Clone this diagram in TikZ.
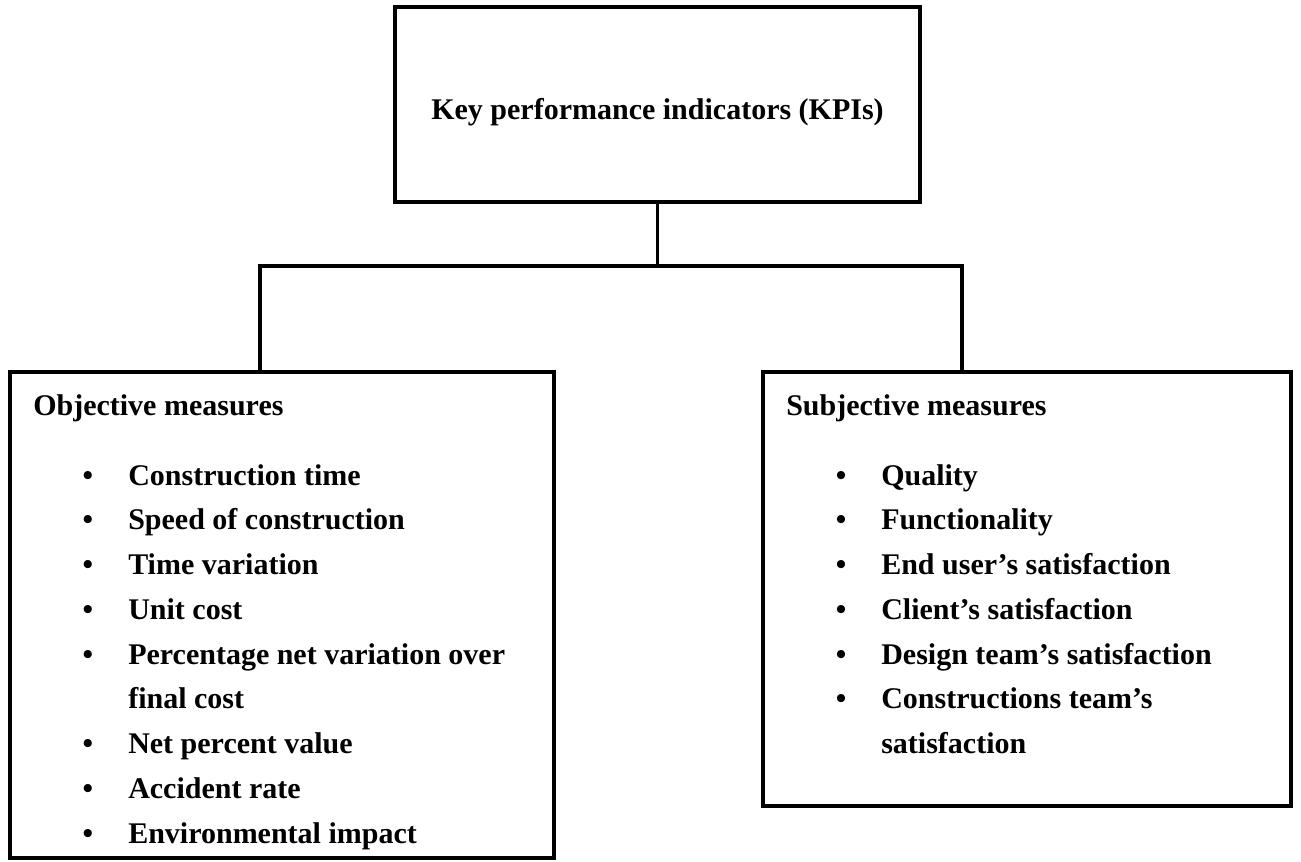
\documentclass[tikz,border=0pt]{standalone}
\usepackage{fontspec}
\setmainfont{Liberation Serif}
\usetikzlibrary{fit}
\begin{document}
\begin{tikzpicture}[x=0.75pt,y=-0.75pt,
  frame/.style={draw, rectangle, inner sep=0pt, line width=2.4pt},
  wire/.style={draw, line width=2.4pt},
  label/.style={anchor=base west, inner sep=0pt, font=\bfseries\fontsize{22.5}{27}\selectfont},
  dot/.style={anchor=base, inner sep=0pt, font=\bfseries\fontsize{22.5}{27}\selectfont}]
\useasboundingbox (0,0) rectangle (1301,861);

% boxes
\node[frame, fit={(395,7) (920,202)}] (kpi) {};
\node[frame, fit={(10,372) (554,858)}] (obj) {};
\node[frame, fit={(763,372) (1291,806)}] (subj) {};

% title
\node[dot] (title) at (657.5,119) {Key performance indicators (KPIs)};

% connectors
\coordinate (split) at (657.5,266);
\coordinate (ltap) at (260,266);
\coordinate (rtap) at (962,266);
\draw[wire] (kpi.south) -- (split);
\draw[wire] (ltap |- obj.north) -- (ltap) -- (rtap) -- (rtap |- subj.north);

% objective measures
\node[label] (oh) at (33,415) {Objective measures};
\foreach \t/\k [count=\i] in {Construction time/0, Speed of construction/1, Time variation/2, Unit cost/3, Percentage net variation over/4, Net percent value/6, Accident rate/7, Environmental impact/8}{
  \node[dot] (ob\i) at (88,485+44.75*\k) {\textbullet};
  \node[label] (o\i) at (128,485+44.75*\k) {\t};
}
\node[label] (owrap) at (128,485+44.75*5) {final cost};

% subjective measures
\node[label] (sh) at (786,415) {Subjective measures};
\foreach \t/\k [count=\i] in {Quality/0, Functionality/1, End user's satisfaction/2, Client's satisfaction/3, Design team's satisfaction/4, Constructions team's/5}{
  \node[dot] (sb\i) at (841,485+44.75*\k) {\textbullet};
  \node[label] (s\i) at (881,485+44.75*\k) {\t};
}
\node[label] (swrap) at (881,485+44.75*6) {satisfaction};
\end{tikzpicture}
\end{document}
